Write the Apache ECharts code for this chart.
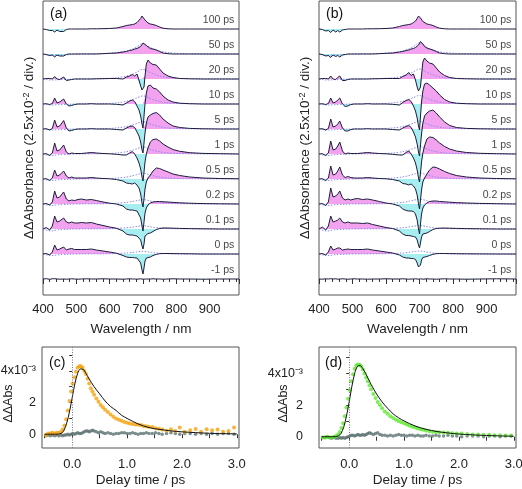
<!DOCTYPE html>
<html><head><meta charset="utf-8">
<script src="https://cdn.jsdelivr.net/npm/echarts@6/dist/echarts.min.js"></script>
<style>html,body{margin:0;padding:0;background:#fff}#c{width:522px;height:489px}</style>
</head><body><div id="c"></div>
<script>
// ---------- spectra (units: 1e-3 ΔΔAbs; 25 = one division of 2.5x10^-2) ----------
const wavelengths = [400,410,420,428,435,442,450,456,462,470, 478,486,495,505,515,530,545,560,580,600, 620,640,650,660,668,675,682,688,693,697, 700,703,706,710,715,722,730,740,750,760, 775,790,810,840,880,930,988];
const delayLabels = ['-1 ps','0 ps','0.1 ps','0.2 ps','0.5 ps','1 ps','5 ps','10 ps','20 ps','50 ps','100 ps'];

const A_m1 = [0,0.3,-0.3,0.2,0.3,0,-0.2,0.2,0,-0.2, 0,0.2,0,-0.2,0,0.2,0,0,0.2,0, 0,-0.2,0,0.2,0,0,-0.2,0,0.2,0, -0.2,0,0.2,0,-0.2,0,0.2,0,0,-0.2, 0,0.2,0,0,-0.2,0,0];
const A_0   = [0,0.5,-1,2,9,4,5,6,7,4, 5,5.5,4.5,4.5,4.5,4.5,5,4,3,2, 0.8,-1.5,-3,-3.5,-3.5,-3.8,-4,-5,-9,-16, -20,-14,-7,-4,-3.5,-3,-1.5,-0.3,0.3,0.5, 0.5,0.4,0.3,0.2,0,0,0];
const A_01  = [0,1.5,-1,3,13,7,8,9,11,7, 6,7,6,6,6.5,6,6.5,5,3.5,2, 0.8,-2,-5,-6,-6,-6.5,-7,-7.5,-11,-17, -20,-15,-7,-5,-4.5,-4,-2.5,-0.5,0.5,1, 1,0.8,0.6,0.4,0.2,0,0];
const A_02  = [0,0.5,-1,2,13,6,7,9,12,5, 3,4,3.5,4.5,5,4,4.5,3.5,2,0.8, 0,-2,-5,-6,-6,-6.5,-7,-9,-14,-22, -27,-18,-9,-4,-1,1,2,2.5,2.5,2.2, 2,1.6,1.2,0.8,0.4,0.2,0];
const A_05  = [0,0.3,-1.5,1,9,3,4,6,8,3, 1,2,1,1,1,1,1.5,1,0.5,0.2, -0.5,-2,-4,-4.5,-5,-4,-6,-9,-15,-24, -28,-20,-10,-3,1,4,8,11,10.5,9, 7,5,3.5,2,1,0.5,0.2];
const A_1   = [0,0.3,-1.5,1,11,3,4,6,9,2, 0,1,0.5,0.5,0.5,1,1.5,1,0.5,0.2, -0.3,-1,-1,1,2.5,0,-4,-9,-15,-23, -27,-18,-8,0,6,12,14.5,15,13,10, 7,4.5,2.7,1.3,0.6,0.3,0];
const A_5   = [0,0.3,-1,0.5,9,2,3,5,8.5,1, -2,-1.5,-0.5,0,0,0,0.3,0,0,0, -0.5,-1,1,2.5,3,1.5,-3,-7,-13,-21, -24,-14,-4,6,12,14,15.5,16.5,14,10, 6,3,1.5,0.6,0.2,0,0];
const A_10  = [0,0.3,-0.5,0.5,6,1,2,3.5,5,0, -2,-1.5,-0.5,0,0,0,0.3,0,0,0, -0.3,-1,1,3,4,2.5,-2,-6,-12,-20, -24,-12,0,11,18,19,16,15,12,8, 4,2,0.8,0.3,0,0,0];
const A_20  = [0,0.5,0.5,0,2.5,0,-0.5,1,2,-1.5, -1,-0.5,0,0,0,0,0,0.2,0.3,0.5, 0.5,0,2,3,4.5,3,5,-1,-7,-11, -12,-8,3,15,19,16,14.5,14,10,6, 3,1.5,0.5,0.2,0,0,0];
const A_50  = [0,-0.5,-1.5,-1,-3,-1,-2,-1,-2,-0.5, 0,0,0,0,0,0,0,0,0.3,0.7, 1,2,2.5,3.5,4,5,5.5,6.5,7.5,9.5, 11,12.5,11,8.5,6.5,5.5,5,4,2.5,1, 0.3,0,0,0,0,0,0];
const A_100 = [0,-0.5,-1.5,-1.5,-3,-1,-2.5,-1.5,-2.5,-0.5, 0,0,0,0,0,0,0.2,0.2,0.3,0.5, 1,2.5,3.5,4,4.5,5,6.5,8,10.5,13, 13,11,9,7.5,6,5,4.5,3.5,2,0.8, 0.2,0,0,0,0,0,0];

const B_m1 = [0,-0.2,0.2,0,0.3,0,0.2,-0.2,0,0.2, 0,-0.2,0,0.2,0,0,-0.2,0,0,0.2, 0,0,0.2,0,-0.2,0,0,0.2,0,-0.2, 0,0.2,0,-0.2,0,0.2,0,0,-0.2,0, 0.2,0,0,-0.2,0,0.2,0];
const B_0   = [0,0.5,-1,2,8,4,5,6,6,4, 4.5,5,4.5,4.5,4.5,4.5,5,4,3,2, 1,-1,-3,-4,-4,-4.5,-4.5,-5.5,-9,-13, -15,-11,-6,-3.5,-3,-2.5,-1.5,-0.3,0.3,0.5, 0.5,0.4,0.3,0.2,0.1,0,0];
const B_01  = [0,2,-1,3,13,7,8,9,11,7, 6,7,6,6,6,5.5,6,4.5,3,1.5, 0.5,-2,-5,-6.5,-6.5,-7,-7.5,-8,-11,-16, -19,-14,-8,-5,-4.5,-4,-2.5,-0.5,0.5,0.8, 1,0.8,0.6,0.4,0.2,0,0];
const B_02  = [0,0.5,-1.5,2,16,7,8,10,13,6, 4,5,4,5,5.5,4.5,5,4,2.5,1, 0,-2,-5,-6.5,-7,-7,-7.5,-10,-16,-25, -30,-20,-10,-4,-1,1,2.5,3,3,2.5, 2.2,1.8,1.4,1,0.6,0.3,0];
const B_05  = [0,0.3,-1.5,1,13,4,5,8,12,4, 1.5,2.5,1.5,1,1,1,1.5,1,0.5,0.2, -0.5,-2,-4.5,-5,-6,-5,-7,-10,-16,-25, -30,-21,-11,-3,1,5,9,12,11.5,10, 7.5,5.5,3.5,2,1,0.5,0.2];
const B_1   = [0,0.3,-1.5,1,13,4,5,8,12,3, 0,1,0.5,0.5,0.5,1,1.5,1,0.5,0.2, -0.3,-1,-1,1.5,3,0,-4,-9,-16,-24, -28,-19,-8,1,8,15,17,16.5,14,11, 7.5,5,3,1.5,0.7,0.3,0];
const B_5   = [0,0.3,-1,0.5,10,2,3,5,8,1, -2,-2,-0.5,0,0,0,0.3,0,0,0, -0.5,-1,1,2.5,3.5,1.5,-3,-8,-15,-23, -27,-16,-5,6,13,16,18,19,16,12, 7,3.5,1.5,0.6,0.2,0,0];
const B_10  = [0,0.3,-0.5,0.5,6,1,2,4,6,0, -2.5,-2,-0.5,0,0,0,0.3,0,0,0, -0.3,-1,1.5,3.5,4.5,2.5,-2,-7,-14,-22, -26,-12,2,13,20,21,19,16,13,9, 4.5,2,0.8,0.3,0,0,0];
const B_20  = [0,0.5,0.5,0,3,0,-0.5,1.5,3,-1.5, -1.5,-0.5,0,0,0,0,0,0.2,0.3,0.5, 0.5,0.5,2.5,4,6.5,3.5,5,-1,-8,-12, -13,-8,4,17,21,18,16,15,11,7, 3.5,1.5,0.5,0.2,0,0,0];
const B_50  = [0,-0.5,-2,-1.5,-3.5,-1,-2.5,-1.5,-3,-1, -0.5,0,0,0,0,0,0,0,0.3,0.7, 1,2,2.5,3.5,4,5,5.5,6.5,7.5,9, 10.5,12.5,13,10,7.5,6,5,4,2.5,1, 0.3,0,0,0,0,0,0];
const B_100 = [0,-0.5,-2,-1.5,-3.5,-1,-3,-1.5,-3,-1, -0.5,0,0,0,0,0,0.2,0.2,0.3,0.5, 1,2.5,3.5,4,4.5,5,6.5,8,10.5,13, 13,11,9,7.5,6,5,4.5,3.5,2,0.8, 0.2,0,0,0,0,0,0];

// dotted reference curves (0 ps ... 50 ps)
const dotWavelengths = [400,425,440,460,500,600,640,660,675,688,697,703,712,725,740,760,790,840,988];
const dotA_0  = [0,-1.5,-1,-0.5,0,0.3,0.8,1.2,1.8,2.3,2.7,2.7,2.3,1.6,1,0.5,0.2,0,0];
const dotA_01 = [0,-2,-1,-0.5,0,0.3,1,1.5,2.2,2.8,3.2,3.2,2.8,2,1.3,0.7,0.3,0.1,0];
const dotA_02 = [0,-1.5,-1,-0.5,0,0.4,1.2,2,3,3.8,4.3,4.3,3.8,2.8,1.8,1,0.4,0.1,0];
const dotA_05 = [0,-1.5,-1,-0.5,0,0.5,1.5,2.5,3.8,5,5.8,5.8,5,3.8,2.5,1.4,0.6,0.2,0];
const dotA_1  = [0,-1.5,-1,-0.5,0,0.5,1.7,3,4.5,6,7,7,6,4.5,3,1.6,0.7,0.2,0];
const dotA_5  = [0,-1,-0.8,-0.5,0,0.6,1.8,3.2,4.8,6.3,7.3,7.3,6.2,4.6,3.1,1.7,0.7,0.2,0];
const dotA_10 = [0,-1,-0.8,-0.5,0,0.6,2,3.5,5.2,7,8,8,7,5,3.4,1.8,0.8,0.2,0];
const dotA_20 = [0,-1,-0.8,-0.5,0,0.7,2.2,3.8,5.8,8,9.5,9.5,8,6,4,2.2,1,0.3,0];
const dotA_50 = [0,-1.5,-1,-1,0,0.8,2.4,4,6,8.5,10.5,10.5,8.5,6,4,2.2,1,0.3,0];
const dotB_0  = [0,-1.5,-1,-0.5,0,0.3,0.8,1.3,2,2.5,3,3,2.5,1.7,1,0.5,0.2,0,0];
const dotB_01 = [0,-2,-1,-0.5,0,0.3,1,1.6,2.4,3,3.5,3.5,3,2.1,1.3,0.7,0.3,0.1,0];
const dotB_02 = [0,-1.5,-1,-0.5,0,0.4,1.3,2.2,3.3,4.2,4.8,4.8,4.2,3,1.9,1,0.4,0.1,0];
const dotB_05 = [0,-1.5,-1,-0.5,0,0.5,1.6,2.7,4,5.3,6.2,6.2,5.3,4,2.6,1.4,0.6,0.2,0];
const dotB_1  = [0,-1.5,-1,-0.5,0,0.5,1.8,3.1,4.7,6.3,7.4,7.4,6.3,4.7,3.1,1.7,0.7,0.2,0];
const dotB_5  = [0,-1,-0.8,-0.5,0,0.6,1.9,3.3,5,6.6,7.7,7.7,6.5,4.8,3.2,1.8,0.8,0.2,0];
const dotB_10 = [0,-1,-0.8,-0.5,0,0.6,2,3.6,5.4,7.3,8.4,8.4,7.2,5.2,3.5,1.9,0.8,0.2,0];
const dotB_20 = [0,-1,-0.8,-0.5,0,0.7,2.2,3.9,6,8.3,10,10,8.3,6.2,4.1,2.2,1,0.3,0];
const dotB_50 = [0,-1.5,-1,-1,0,0.8,2.4,4.1,6.2,8.8,11,11,8.8,6.2,4.1,2.2,1,0.3,0];

// ---------- kinetics (units: 1e-3 ΔΔAbs) ----------
const delayTimes = [-0.48,-0.44,-0.40,-0.36,-0.32,-0.28,-0.24,-0.20,-0.17,-0.14, -0.11,-0.08,-0.05,-0.02,0.01,0.04,0.07,0.10,0.13,0.16, 0.19,0.22,0.25,0.28,0.31,0.34,0.37,0.40,0.44,0.48, 0.52,0.56,0.60,0.65,0.70,0.75,0.80,0.85,0.90,0.95, 1.00,1.05,1.10,1.15,1.20,1.25,1.30,1.35,1.40,1.46, 1.52,1.58,1.64,1.72,1.80,1.88,1.96,2.05,2.15,2.25, 2.35,2.45,2.55,2.65,2.75,2.85,2.95];
const kinC = [-0.05,0.05,0.05,0.1,0.05,0.1,0.1,0.15,0.3,0.55, 0.95,1.5,2.1,2.7,3.2,3.6,3.95,4.2,4.3,4.3, 4.2,4.0,3.8,3.5,3.2,2.9,2.7,2.5,2.25,2.05, 1.85,1.7,1.55,1.4,1.25,1.1,1.0,0.92,0.85,0.78, 0.72,0.68,0.65,0.62,0.6,0.58,0.52,0.5,0.48,0.45, 0.38,0.35,0.3,0.22,0.32,0.2,0.42,0.15,0.25,0.33, 0.15,0.32,0.25,0.3,0.15,0.2,0.42];
const greyC = [-0.1,-0.05,-0.1,-0.05,-0.1,-0.05,-0.1,-0.05,-0.1,-0.05, -0.05,0,-0.05,0,0.05,0,0.05,0.1,0.05,0.05, 0.1,0.15,0.2,0.2,0.15,0.2,0.25,0.2,0.15,0.1, 0.15,0.1,0.05,0.1,0.05,0,0.05,0.05,0.1,0.1, 0.05,0.05,0.1,0.05,0,0.05,0.05,0.1,0.05,0.05, 0.1,0.05,0,0.05,0.1,0.05,0,0.05,0.05,0, 0.05,0,0.05,0,0.05,0.05,0];
const kinD = [-0.05,-0.05,0,-0.05,-0.05,0,0.05,0.15,0.3,0.55, 0.85,1.3,1.85,2.4,2.95,3.5,3.95,4.3,4.5,4.57, 4.55,4.45,4.25,4.0,3.75,3.5,3.25,3.0,2.7,2.45, 2.2,2.0,1.8,1.6,1.45,1.3,1.18,1.08,1.0,0.92, 0.85,0.78,0.7,0.63,0.58,0.52,0.48,0.44,0.4,0.35, 0.32,0.3,0.28,0.27,0.25,0.22,0.2,0.2,0.18,0.15, 0.15,0.12,0.12,0.1,0.1,0.08,0.08];
const greyD = [-0.05,-0.05,0,-0.05,-0.1,-0.05,-0.1,-0.1,-0.05,-0.1, -0.05,-0.1,-0.05,0,0.05,0.1,0.1,0.05,0.1,0.15, 0.1,0.1,0.15,0.1,0.15,0.2,0.25,0.2,0.15,0.2, 0.25,0.15,0.1,0.1,0.05,0.1,0.05,0.1,0.15,0.1, 0.1,0.05,0.1,0.1,0.05,0.1,0.05,0.05,0.1,0.05, 0.05,0.1,0.05,0.05,0.1,0.05,0.05,0,0.05,0.05, 0.05,0,0.05,0.05,0,0.05,0.05];
const fitTimes = [-0.5,-0.3,-0.2,-0.15,-0.1,-0.05,0,0.05,0.1,0.15, 0.2,0.25,0.3,0.4,0.5,0.6,0.7,0.8,0.9,1.0, 1.2,1.4,1.6,1.8,2.0,2.5,3.0];
const fitC = [0,0,0.05,0.25,0.7,1.4,2.3,3.2,3.85,4.12, 4.1,3.85,3.55,3.0,2.55,2.1,1.75,1.5,1.2,1.0, 0.65,0.42,0.3,0.21,0.15,0.06,0.02];
const fitD = [0,0,0.05,0.2,0.6,1.3,2.2,3.2,4.0,4.45, 4.5,4.3,4.0,3.3,2.7,2.2,1.8,1.45,1.2,1.0, 0.68,0.47,0.33,0.24,0.17,0.08,0.03];

const xTicksKin = [-0.5,0,0.5,1,1.5,2,2.5,3];
const xLabelsKin = [0,1,2,3];
const yTicksKin = [0,1,2,3,4,5];
const yLabelsKin = [0,2,4];

// ---------- build ----------
const PINK = '#f2a2ee', CYAN = '#a6eef0', LINE = '#1c1c3c', DOT = '#8a8af0';
const FONT = 'Liberation Sans, Arial, sans-serif';
const OFFSET = 25;
const tracesA = [A_m1,A_0,A_01,A_02,A_05,A_1,A_5,A_10,A_20,A_50,A_100];
const tracesB = [B_m1,B_0,B_01,B_02,B_05,B_1,B_5,B_10,B_20,B_50,B_100];
const dotsA = [null,dotA_0,dotA_01,dotA_02,dotA_05,dotA_1,dotA_5,dotA_10,dotA_20,dotA_50,null];
const dotsB = [null,dotB_0,dotB_01,dotB_02,dotB_05,dotB_1,dotB_5,dotB_10,dotB_20,dotB_50,null];

const series = [];
function addSpectra(gi, traces, dots) {
  traces.forEach((d, i) => {
    const off = i * OFFSET;
    const base = {type:'line', xAxisIndex:gi, yAxisIndex:gi, symbol:'none', silent:true, animation:false};
    series.push(Object.assign({}, base, {data: wavelengths.map((w,k)=>[w, off + Math.max(d[k],0)]),
      lineStyle:{opacity:0}, areaStyle:{color:PINK, opacity:1, origin:off}, z:1}));
    series.push(Object.assign({}, base, {data: wavelengths.map((w,k)=>[w, off + Math.min(d[k],0)]),
      lineStyle:{opacity:0}, areaStyle:{color:CYAN, opacity:1, origin:off}, z:1}));
    if (dots[i]) series.push(Object.assign({}, base, {data: dotWavelengths.map((w,k)=>[w, off + dots[i][k]]),
      smooth:0.4, lineStyle:{color:DOT, width:1, type:[1.5,1.5]}, z:2}));
    series.push(Object.assign({}, base, {data: wavelengths.map((w,k)=>[w, off + d[k]]),
      lineStyle:{color:LINE, width:1}, z:3}));
  });
  series.push({type:'scatter', xAxisIndex:gi, yAxisIndex:gi, symbolSize:0, silent:true,
    data: delayLabels.map((t,i)=>[974, i*OFFSET + 9, t]),
    label:{show:true, position:'left', distance:0, formatter:p=>p.data[2], fontSize:10.5, color:'#111', fontFamily:FONT}, z:5});
}
addSpectra(0, tracesA, dotsA);
addSpectra(1, tracesB, dotsB);

function addKin(gi, vals, grey, fit, color) {
  series.push({type:'scatter', xAxisIndex:gi, yAxisIndex:gi, symbolSize:3.5, silent:true,
    data: delayTimes.map((t,k)=>[t, grey[k]]), itemStyle:{color:'#5f7373'}, z:2,
    markLine:{silent:true, symbol:'none', label:{show:false}, lineStyle:{color:'#777', type:[1,1.5], width:1}, data:[{xAxis:0}], animation:false}});
  series.push({type:'scatter', xAxisIndex:gi, yAxisIndex:gi, symbolSize:4, silent:true,
    data: delayTimes.map((t,k)=>[t, vals[k]]), itemStyle:{color:color}, z:3});
  series.push({type:'line', xAxisIndex:gi, yAxisIndex:gi, symbol:'none', smooth:0.3, silent:true,
    data: fitTimes.map((t,k)=>[t, fit[k]]), lineStyle:{color:'#111', width:1}, z:4});
}
addKin(2, kinC, greyC, fitC, '#f2a30f');
addKin(3, kinD, greyD, fitD, '#5ee830');

const gridStyle = {show:true, borderColor:'#555', borderWidth:1, backgroundColor:'transparent', containLabel:false, outerBoundsMode:'none'};
const specX = gi => ({gridIndex:gi, type:'value', min:400, max:988, interval:100,
  axisLine:{show:false}, splitLine:{show:false},
  axisTick:{show:true, length:5, lineStyle:{color:'#333'}},
  minorTick:{show:true, splitNumber:5, length:3, lineStyle:{color:'#333'}},
  axisLabel:{fontSize:13, color:'#222', margin:8, showMaxLabel:false, fontFamily:FONT},
  name:'Wavelength / nm', nameLocation:'middle', nameGap:27, nameMoveOverlap:false, nameTextStyle:{fontSize:13.5, color:'#222', fontFamily:FONT}});
const specY = gi => ({gridIndex:gi, type:'value', min:-16, max:278,
  axisLine:{show:false}, axisTick:{show:false}, axisLabel:{show:false}, splitLine:{show:false},
  name:'ΔΔAbsorbance (2.5x10{s|-2} / div.)', nameLocation:'middle', nameRotate:90, nameGap:7, nameMoveOverlap:false,
  nameTextStyle:{fontSize:13.5, color:'#222', fontFamily:FONT, rich:{s:{fontSize:9, verticalAlign:'top', lineHeight:9, fontFamily:FONT, color:'#222'}}}});
const kinX = (gi) => ({gridIndex:gi, type:'value', min:-0.55, max:3.04, offset:2,
  axisLine:{show:false}, splitLine:{show:false},
  axisTick:{show:true, length:4, customValues:xTicksKin, lineStyle:{color:'#333'}},
  axisLabel:{fontSize:13, color:'#222', margin:8, customValues:xLabelsKin, formatter:v=>Number(v).toFixed(1), fontFamily:FONT},
  name:'Delay time / ps', nameLocation:'middle', nameGap:23, nameMoveOverlap:false, nameTextStyle:{fontSize:13.5, color:'#222', fontFamily:FONT}});
const kinY = (gi, min, max, margin, gap) => ({gridIndex:gi, type:'value', min:min, max:max, offset:1,
  axisLine:{show:false}, splitLine:{show:false},
  axisTick:{show:true, length:3, customValues:yTicksKin, lineStyle:{color:'#333'}},
  axisLabel:{fontSize:12.5, color:'#222', margin:margin, customValues:yLabelsKin, fontFamily:FONT,
    formatter:v=> v===4 ? '4x10⁻³' : String(v)},
  name:'ΔΔAbs', nameLocation:'middle', nameRotate:90, nameGap:gap, nameMoveOverlap:false,
  nameTextStyle:{fontSize:12.5, color:'#222', fontFamily:FONT, padding:[0,12,0,0]}});

const option = {
  animation:false,
  textStyle:{fontFamily:FONT},
  grid:[
    Object.assign({left:43, top:1, width:196, height:294}, gridStyle),
    Object.assign({left:319, top:1, width:197, height:294}, gridStyle),
    Object.assign({left:42, top:347, width:197, height:101}, gridStyle),
    Object.assign({left:319, top:347, width:197, height:101}, gridStyle)
  ],
  xAxis:[specX(0), specX(1), kinX(2), kinX(3)],
  yAxis:[specY(0), specY(1), kinY(2,-0.87,5.51,5,26), kinY(3,-0.71,5.67,15,28)],
  graphic:[
    {type:'text', left:50, top:7, style:{text:'(a)', fill:'#111', font:'14px Liberation Sans'}},
    {type:'text', left:326, top:7, style:{text:'(b)', fill:'#111', font:'14px Liberation Sans'}},
    {type:'text', left:49, top:356, style:{text:'(c)', fill:'#111', font:'14px Liberation Sans'}},
    {type:'text', left:325, top:356, style:{text:'(d)', fill:'#111', font:'14px Liberation Sans'}}
  ],
  series: series
};
const chart = echarts.init(document.getElementById('c'), null, {renderer:'canvas'});
chart.setOption(option);
</script>
</body></html>
